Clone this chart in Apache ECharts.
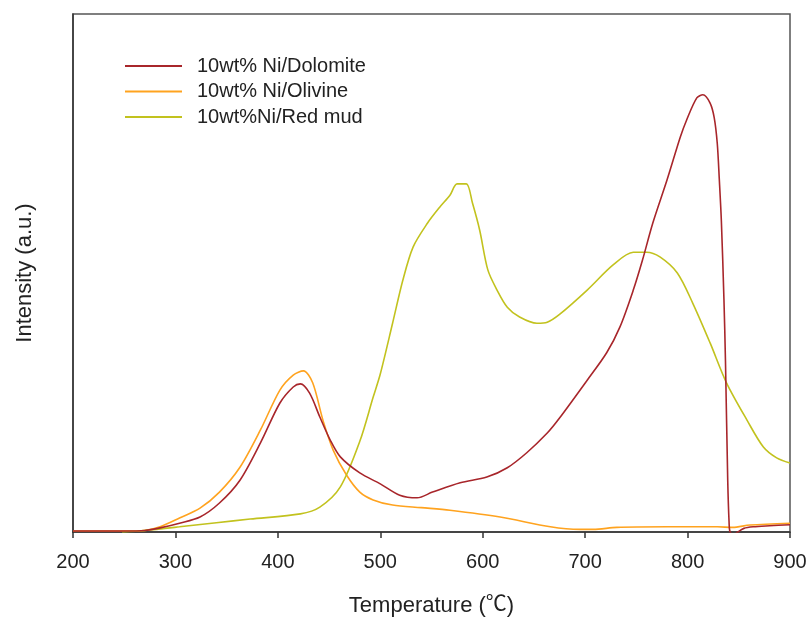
<!DOCTYPE html>
<html>
<head>
<meta charset="utf-8">
<script src="https://cdn.jsdelivr.net/npm/echarts@6/dist/echarts.min.js"></script>
<style>html,body{margin:0;padding:0;background:#fff}#c{width:808px;height:617px}</style>
</head>
<body>
<div id="c"></div>
<script>
var seriesNames = ['10wt% Ni/Dolomite', '10wt% Ni/Olivine', '10wt%Ni/Red mud'];
var xTicks = [200, 300, 400, 500, 600, 700, 800, 900];

var dolomiteT = [200,250,270,285,304,324,343,363,383,402,415,422,431,441,451,461,480,500,519,536,551,578,604,624,643,663,675,702,721,734,747,756,766,780,793,799,809,815,822,826,829,831,833,835.5,837,839.2,840.5,841.5,845,849,855,864,880,900];
var dolomiteV = [0.2,0.2,0.3,0.8,1.7,2.9,5.6,10,17.2,24.9,28,28.6,26.8,22.2,17.8,14.5,11.4,9.3,7.1,6.6,7.7,9.5,10.6,12.4,15.3,19.1,22,29.3,34.6,39.6,46.7,52.5,59.6,68,76.3,79.5,83.8,84.4,82.8,80,75,68,60,45,33,10,2,0,-0.5,0,0.7,1.0,1.2,1.4];

var olivineT = [200,250,270,285,304,324,343,363,383,402,415,425,434,444,454,467,480,493,512,540,568,617,666,695,708,731,780,829,844,861,900];
var olivineV = [0.2,0.2,0.3,1.0,2.7,4.6,7.7,12.5,19.7,27.4,30.3,31.1,28.8,21.6,15.8,11,7.7,6.2,5.2,4.7,4.2,2.9,1.0,0.5,0.5,0.9,1.0,1.0,0.9,1.35,1.7];

var redmudT = [248,270,304,340,373,422,441,461,480,493,500,512,522,532,546,558,568,575,584,590,597,605,614,624,636,653,663,675,702,727,747,760,773,790,805,822,838,858,874,887,900];
var redmudV = [0,0.3,1.0,1.8,2.5,3.5,4.8,8.7,17.5,26,30.5,40.3,48.6,55,59.6,62.7,65,67.2,67.2,63.5,58.3,50.6,46.7,43.4,41.5,40.3,40.5,42,46.7,51.5,54,54,53.1,50,44.2,36.5,28.8,21.6,16.4,14.3,13.3];

var colors = ['#a8262b', '#ffa31f', '#c2c21e'];

function pairs(t, v) { return t.map(function (x, i) { return [x, v[i]]; }); }
var datasets = [pairs(dolomiteT, dolomiteV), pairs(olivineT, olivineV), pairs(redmudT, redmudV)];

var chart = echarts.init(document.getElementById('c'), null, {renderer: 'canvas'});
var font = 'Arial, "Liberation Sans", sans-serif';
chart.setOption({
  animation: false,
  backgroundColor: '#fff',
  grid: {left: 73, right: 18, top: 14, bottom: 85, outerBoundsMode: 'none', containLabel: false,
    show: true, borderColor: '#555', borderWidth: 1.5, backgroundColor: 'transparent'},
  legend: {
    data: seriesNames,
    orient: 'vertical',
    left: 125,
    top: 56,
    padding: 0,
    itemWidth: 57,
    itemHeight: 2,
    itemGap: 5.5,
    icon: 'path://M0 0H57V2H0Z',
    textStyle: {fontFamily: font, fontSize: 20, color: '#222', lineHeight: 19, padding: [0, 0, 0, 10]}
  },
  xAxis: {
    type: 'value', min: 200, max: 900, interval: 100,
    name: 'Temperature ({c|℃})', nameLocation: 'middle', nameGap: 60,
    nameTextStyle: {fontFamily: font, fontSize: 22, color: '#222',
      rich: {c: {fontFamily: '"Noto Sans CJK SC", sans-serif', fontSize: 21, color: '#222', padding: [0, 0, 6, 0]}}},
    axisLine: {show: true, lineStyle: {color: '#333', width: 1.5}},
    axisTick: {show: true, inside: false, length: 6, lineStyle: {color: '#333', width: 1.5}},
    axisLabel: {fontFamily: font, fontSize: 20, color: '#222', margin: 20,
      formatter: function (v) { return xTicks.indexOf(v) >= 0 ? String(v) : ''; }},
    splitLine: {show: false}
  },
  yAxis: {
    type: 'value', min: 0, max: 100,
    name: 'Intensity (a.u.)', nameLocation: 'middle', nameGap: 37,
    nameTextStyle: {fontFamily: font, fontSize: 22, color: '#222'},
    axisLine: {show: true, lineStyle: {color: '#333', width: 1.5}},
    axisTick: {show: false},
    axisLabel: {show: false},
    splitLine: {show: false}
  },
  series: seriesNames.map(function (n, i) {
    return {
      name: n, type: 'line', data: datasets[i], smooth: 0.3, showSymbol: false, symbol: 'none',
      clip: true, z: i === 0 ? 4 : 3,
      lineStyle: {color: colors[i], width: 1.6}, itemStyle: {color: colors[i]}
    };
  })
});
</script>
</body>
</html>
